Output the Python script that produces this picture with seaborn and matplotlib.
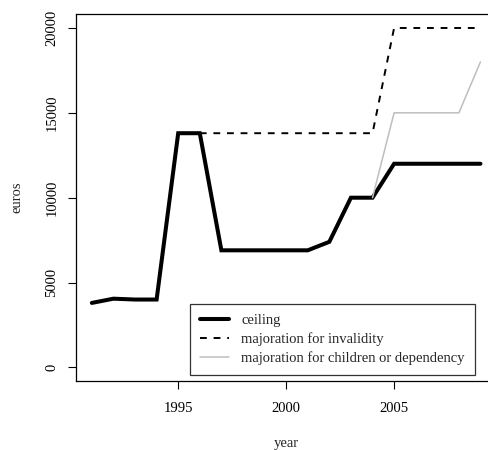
import numpy as np
import pandas as pd
import matplotlib
matplotlib.use("Agg")
import matplotlib.pyplot as plt
import seaborn as sns

years = list(range(1991, 2010))
ceiling = [3800, 4050, 4000, 4000, 13800, 13800, 6900, 6900, 6900, 6900,
           6900, 7400, 10000, 10000, 12000, 12000, 12000, 12000, 12000]
# majorations only differ from the ceiling from a given year on
invalidity_years = list(range(1996, 2010))
invalidity = [13800, 13800, 13800, 13800, 13800, 13800, 13800, 13800, 13800,
              20000, 20000, 20000, 20000, 20000]
children_years = list(range(2004, 2010))
children = [10000, 15000, 15000, 15000, 15000, 18000]

labels = ["ceiling", "majoration for invalidity",
          "majoration for children or dependency"]
x_ticks = [1995, 2000, 2005]
y_ticks = [0, 5000, 10000, 15000, 20000]

FS = 10.5
sns.set_style("ticks")
plt.rcParams["font.family"] = ["Liberation Serif", "DejaVu Serif"]
plt.rcParams["font.size"] = FS

fig = plt.figure(figsize=(4.88, 4.5), dpi=100)
W, H = 488, 450
left, right, top, bottom = 76.3, 496.0, 14.4, 381.0
ax = fig.add_axes([left / W, 1 - bottom / H, (right - left) / W, (bottom - top) / H])

df_c = pd.DataFrame({"year": years, "euros": ceiling})
df_i = pd.DataFrame({"year": invalidity_years, "euros": invalidity})
df_k = pd.DataFrame({"year": children_years, "euros": children})

sns.lineplot(data=df_c, x="year", y="euros", ax=ax, color="black", lw=2.9,
             label=labels[0], solid_joinstyle="miter", zorder=3)
sns.lineplot(data=df_i, x="year", y="euros", ax=ax, color="black", lw=1.4,
             label=labels[1], zorder=4)
ax.lines[-1].set_dashes((3.5, 3.5))
sns.lineplot(data=df_k, x="year", y="euros", ax=ax, color="#bebebe", lw=1.1,
             label=labels[2], zorder=4)

ax.set_xlim(1990.28, 2009.72)
ax.set_ylim(-800, 20800)
ax.set_xticks(x_ticks)
ax.set_yticks(y_ticks)
ax.set_xticklabels([str(t) for t in x_ticks])
ax.set_yticklabels([str(t) for t in y_ticks], rotation=90, va="center")

for s in ax.spines.values():
    s.set_color("black")
    s.set_linewidth(0.9)
    s.set_visible(True)
ax.tick_params(axis="both", direction="out", length=6, width=0.8,
               color="black", labelsize=FS, labelcolor="black",
               bottom=True, left=True, top=False, right=False)
ax.tick_params(axis="x", pad=9)
ax.tick_params(axis="y", pad=7)

ax.set_xlabel("year", fontsize=FS)
ax.set_ylabel("euros", fontsize=FS)
ax.xaxis.set_label_coords(286.7 / W, 1 - 443 / H, transform=fig.transFigure)
ax.yaxis.set_label_coords(17 / W, 1 - 197.7 / H, transform=fig.transFigure)
ax.xaxis.label.set_va("center")
ax.yaxis.label.set_va("center")

leg = ax.legend(loc="lower right", bbox_to_anchor=(475 / W, 1 - 375 / H),
                bbox_transform=fig.transFigure, frameon=True, fancybox=False,
                fontsize=FS, handlelength=1.95, handletextpad=0.87,
                borderpad=0.7, labelspacing=0.35, borderaxespad=0)
leg.get_frame().set_edgecolor("black")
leg.get_frame().set_linewidth(0.9)

fig.savefig("out.png", dpi=100)
